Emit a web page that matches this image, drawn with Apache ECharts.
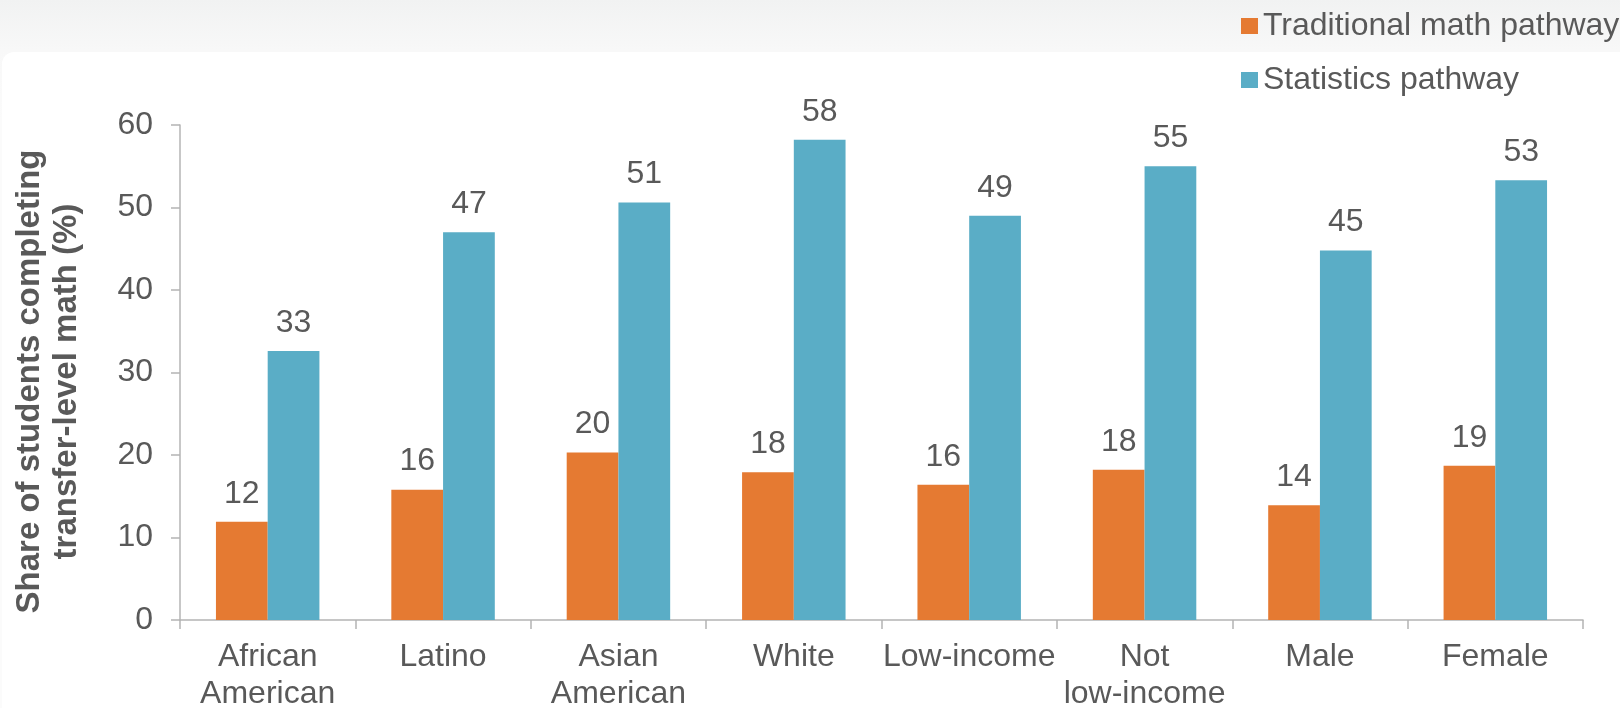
<!DOCTYPE html>
<html>
<head>
<meta charset="utf-8">
<script src="https://cdn.jsdelivr.net/npm/echarts@6/dist/echarts.min.js"></script>
<style>
  html, body { margin: 0; padding: 0; }
  body {
    width: 1620px; height: 708px; position: relative; overflow: hidden;
    background: linear-gradient(to bottom, #f1f2f2 0px, #f8f8f8 50px, #fbfbfb 120px);
  }
  .panel {
    position: absolute; left: 2px; top: 52px; right: -20px; bottom: -20px;
    background: #fff; border-radius: 12px;
  }
  #chart { position: absolute; left: 0; top: 0; width: 1620px; height: 708px; }
</style>
</head>
<body>
<div class="panel"></div>
<div id="chart"></div>
<script>
const categories = ['African\nAmerican', 'Latino', 'Asian\nAmerican', 'White', 'Low-income', 'Not\nlow-income', 'Male', 'Female']
const traditional = [11.9, 15.8, 20.3, 17.9, 16.4, 18.2, 13.9, 18.7]
const statistics = [32.6, 47.0, 50.6, 58.2, 49.0, 55.0, 44.8, 53.3]
const seriesNames = ['Traditional math pathway', 'Statistics pathway']
const yTicks = { min: 0, max: 60, interval: 10 }

const font = 'Liberation Sans, Arial, sans-serif'
const textColor = '#595959'
const axisGray = '#b4b4b4'

const chart = echarts.init(document.getElementById('chart'))

const barLabel = {
  show: true,
  position: 'top',
  distance: 12,
  fontSize: 32,
  fontFamily: font,
  color: textColor,
  formatter: (p) => Math.round(p.value),
}

chart.setOption({
  animation: false,
  backgroundColor: 'transparent',
  grid: { left: 180, right: 37, top: 125, bottom: 88, outerBoundsMode: 'none', containLabel: false },
  legend: {
    orient: 'vertical',
    left: 1236,
    top: 5,
    itemWidth: 17,
    itemHeight: 16,
    itemGap: 22,
    icon: 'rect',
    textStyle: { fontSize: 32, fontFamily: font, color: textColor },
    data: seriesNames,
  },
  xAxis: {
    type: 'category',
    data: categories,
    axisLine: { lineStyle: { color: axisGray, width: 1.5 } },
    axisTick: { show: true, length: 9, lineStyle: { color: axisGray, width: 1.5 } },
    axisLabel: {
      interval: 0,
      margin: 19,
      fontSize: 32,
      lineHeight: 37,
      fontFamily: font,
      color: textColor,
    },
  },
  yAxis: {
    type: 'value',
    min: yTicks.min,
    max: yTicks.max,
    interval: yTicks.interval,
    name: 'Share of students completing\ntransfer-level math (%)',
    nameLocation: 'middle',
    nameRotate: 90,
    nameGap: 95,
    nameTextStyle: {
      fontSize: 33, fontWeight: 'bold', fontFamily: font, color: textColor,
      lineHeight: 37, padding: [0, 18, 0, 0],
    },
    splitLine: { show: false },
    axisLine: { show: true, lineStyle: { color: axisGray, width: 1.5 } },
    axisTick: { show: true, length: 9, lineStyle: { color: axisGray, width: 1.5 } },
    axisLabel: { margin: 27, fontSize: 32, fontFamily: font, color: textColor },
  },
  series: [
    {
      name: seriesNames[0],
      type: 'bar',
      data: traditional,
      barGap: '0%',
      barCategoryGap: '41%',
      itemStyle: { color: '#e57a32' },
      label: barLabel,
    },
    {
      name: seriesNames[1],
      type: 'bar',
      data: statistics,
      itemStyle: { color: '#5aadc6' },
      label: barLabel,
    },
  ],
})
</script>
</body>
</html>
